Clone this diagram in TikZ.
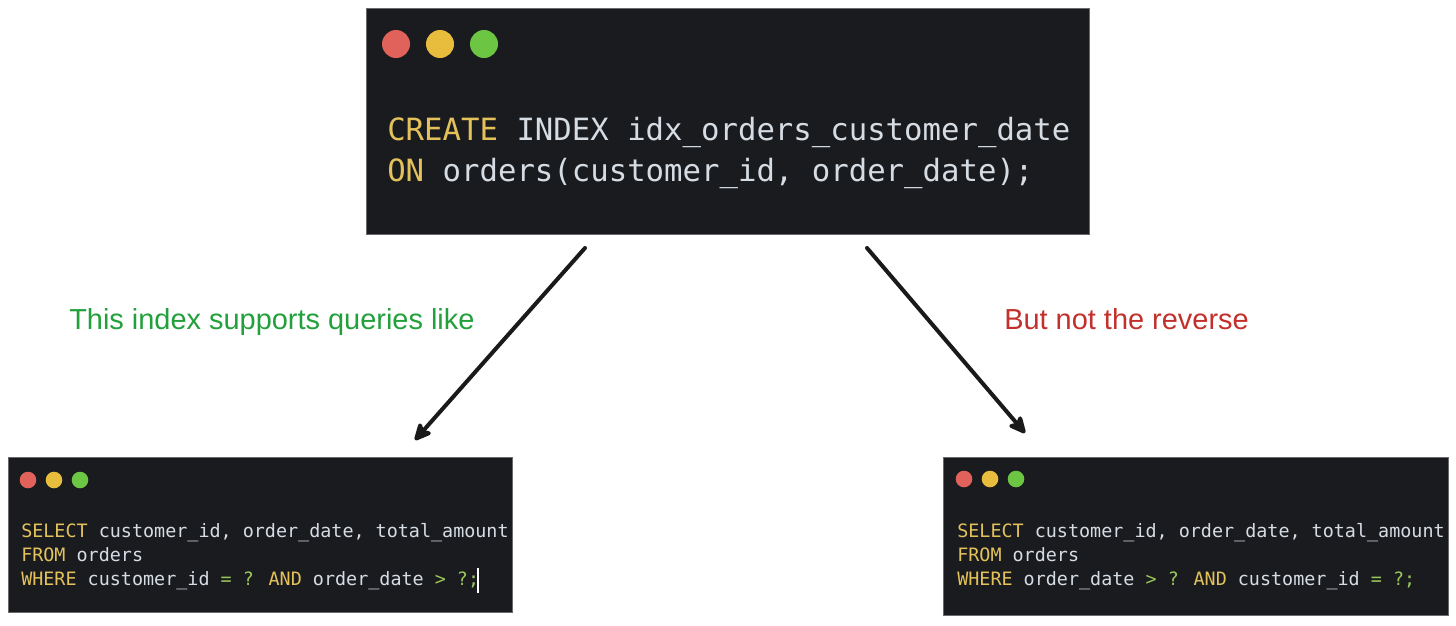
\documentclass[tikz,border=0pt]{standalone}
\usepackage{fontspec}
\setmainfont{Liberation Sans}
\newfontfamily\codefont{DejaVu Sans Mono}
\usetikzlibrary{arrows.meta}
\definecolor{panelbg}{HTML}{1A1B1E}
\definecolor{panelborder}{HTML}{6A6A6A}
\definecolor{kw}{HTML}{E3C25C}
\definecolor{code}{HTML}{D6DCE4}
\definecolor{op}{HTML}{9BC85A}
\definecolor{dotred}{HTML}{E0625A}
\definecolor{dotyellow}{HTML}{E8BC3C}
\definecolor{dotgreen}{HTML}{6CC644}
\definecolor{goodtxt}{HTML}{22A03C}
\definecolor{badtxt}{HTML}{C3302C}
\definecolor{arrowc}{HTML}{1A1A1A}
\newcommand{\K}[1]{\textcolor{kw}{#1}}
\newcommand{\OP}[1]{\textcolor{op}{#1}}
\begin{document}
\begin{tikzpicture}[x=0.75pt,y=-0.75pt,
  panel/.style={draw=panelborder,line width=0.8pt,fill=panelbg,inner sep=0pt,anchor=north west},
  bigcode/.style={anchor=base west,inner sep=0pt,text=code,font=\codefont\fontsize{23}{28}\selectfont},
  smallcode/.style={anchor=base west,inner sep=0pt,text=code,font=\codefont\fontsize{13.8}{17}\selectfont},
  label/.style={anchor=base west,inner sep=0pt,font=\fontsize{21.7}{26}\selectfont},
  conn/.style={draw=arrowc,line width=3pt,line cap=round,-{Stealth[length=16pt,width=15pt,inset=4pt,round]}}
]
\useasboundingbox (0,0) rectangle (1456,625);
\fill[white] (0,0) rectangle (1456,625);

% top panel
\node[panel,minimum width=542.25pt,minimum height=169.5pt] (top) at (366,8) {};
\fill[dotred] (396,44) circle[radius=14];
\fill[dotyellow] (440,44) circle[radius=14];
\fill[dotgreen] (484,44) circle[radius=14];
\node[bigcode] (t1) at (387,140) {\K{CREATE} INDEX idx\_orders\_customer\_date};
\node[bigcode] (t2) at (387,181) {\K{ON} orders(customer\_id, order\_date);};

% left panel
\node[panel,minimum width=378pt,minimum height=116.25pt] (left) at (8,457) {};
\fill[dotred] (28,480) circle[radius=8.3];
\fill[dotyellow] (54,480) circle[radius=8.3];
\fill[dotgreen] (80,480) circle[radius=8.3];
\node[smallcode] (l1) at (21,537) {\K{SELECT} customer\_id, order\_date, total\_amount};
\node[smallcode] (l2) at (21,561) {\K{FROM} orders};
\node[smallcode] (l3) at (21,585) {\K{WHERE} customer\_id \OP{= ?} \K{AND} order\_date \OP{> ?;}};
\draw[white,line width=1.2pt] (478,568) -- (478,593);

% right panel
\node[panel,minimum width=378.75pt,minimum height=118.5pt] (right) at (943,457) {};
\fill[dotred] (964,479) circle[radius=8.3];
\fill[dotyellow] (990,479) circle[radius=8.3];
\fill[dotgreen] (1016,479) circle[radius=8.3];
\node[smallcode] (r1) at (957,537) {\K{SELECT} customer\_id, order\_date, total\_amount};
\node[smallcode] (r2) at (957,561) {\K{FROM} orders};
\node[smallcode] (r3) at (957,585) {\K{WHERE} order\_date \OP{> ?} \K{AND} customer\_id \OP{= ?;}};

% labels
\node[label,text=goodtxt] (lg) at (69,329) {This index supports queries like};
\node[label,text=badtxt] (lb) at (1004,329) {But not the reverse};

% arrows
\coordinate (a1s) at (585,248);
\coordinate (a1e) at (415,440);
\coordinate (a2s) at (867,248);
\coordinate (a2e) at (1025,433);
\draw[conn] (a1s) -- (a1e);
\draw[conn] (a2s) -- (a2e);
\end{tikzpicture}
\end{document}
